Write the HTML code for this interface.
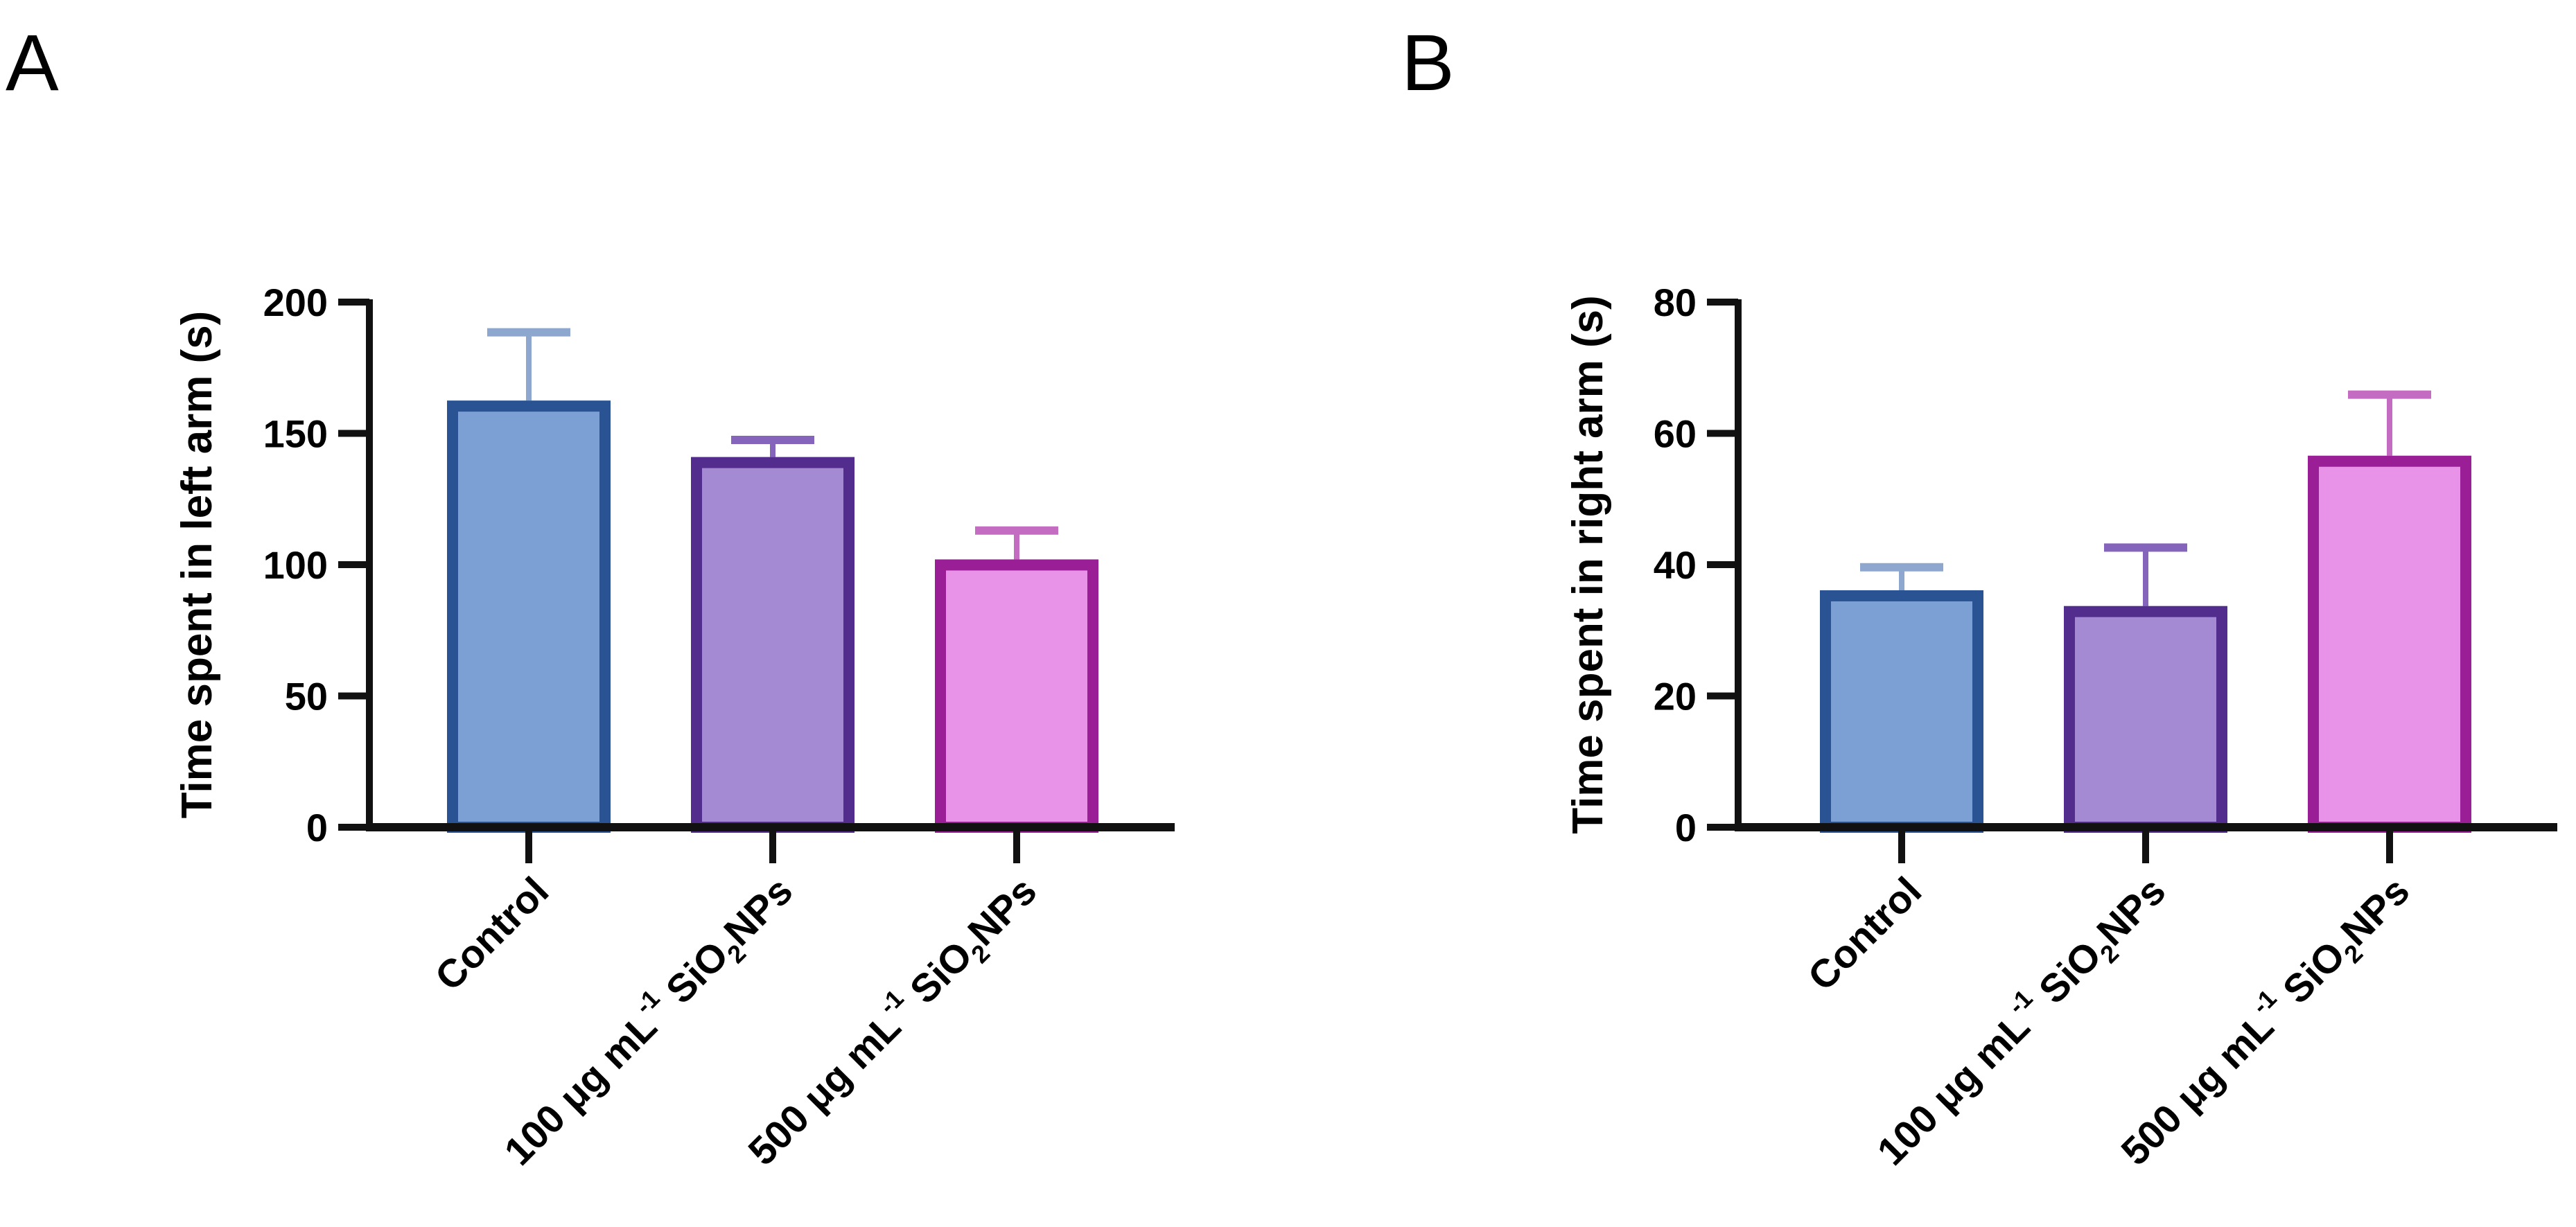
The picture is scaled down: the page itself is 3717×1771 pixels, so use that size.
<!DOCTYPE html>
<html><head><meta charset="utf-8"><style>
html,body{margin:0;padding:0;background:#fff;}
svg{display:block;font-family:"Liberation Sans",Arial,sans-serif;}
</style></head><body>
<svg id="fig" width="3717" height="1771" viewBox="0 0 3717 1771">
<text x="8" y="130" font-size="115">A</text>
<text x="2022" y="130" font-size="115">B</text>
</svg>
<script>
const categories = ["Control", "100 μg mL-1 SiO2NPs", "500 μg mL-1 SiO2NPs"];
const leftArmMeans = [162.5, 141, 102];
const leftArmErr = [188.5, 147.5, 113];
const rightArmMeans = [36.1, 33.7, 56.6];
const rightArmErr = [39.6, 42.6, 65.9];
const leftTicks = [0, 50, 100, 150, 200];
const rightTicks = [0, 20, 40, 60, 80];

const NS = "http://www.w3.org/2000/svg";
const svg = document.getElementById("fig");
const fills = ["#7ca0d4", "#a48ad2", "#e993e8"];
const borders = ["#2a5393", "#522d8e", "#9a1f96"];
const errCols = ["#8ea7cf", "#8565bb", "#c46cc2"];

function mk(tag, attrs, parent) {
  const e = document.createElementNS(NS, tag);
  for (const k in attrs) e.setAttribute(k, attrs[k]);
  (parent || svg).appendChild(e);
  return e;
}

function chart(cfg) {
  const g = mk("g", {});
  
  
  const y0 = 1194, yTop = 436;
  const ymax = cfg.ticks[cfg.ticks.length - 1];
  const yScale = v => y0 - (v / ymax) * (y0 - yTop);
  const xScale = i => cfg.firstCenter + i * cfg.step;
  const bw = 236;
  cfg.means.forEach((v, i) => {
    const cx = xScale(i);
    const er = mk("line", {x1: cx, x2: cx, y1: yScale(cfg.errs[i]), y2: yScale(v), stroke: errCols[i], "stroke-width": 8}, g);
    
    
    const cap = mk("line", {x1: cx - 60, x2: cx + 60, y1: yScale(cfg.errs[i]), y2: yScale(cfg.errs[i]), stroke: errCols[i], "stroke-width": 12}, g);
    
    
    const b = mk("rect", {x: cx - bw / 2 + 8, y: yScale(v) + 8, width: bw - 16, height: y0 - yScale(v) - 8, fill: fills[i], stroke: borders[i], "stroke-width": 16}, g);
    
    
  });
  const ya = mk("line", {x1: cfg.axisX, x2: cfg.axisX, y1: yTop - 4, y2: y0 + 4, stroke: "#111", "stroke-width": 10}, g);
  
  
  const xa = mk("line", {x1: cfg.axisX - 5, x2: cfg.axisEnd, y1: y0, y2: y0, stroke: "#111", "stroke-width": 12}, g);
  
  
  cfg.ticks.forEach(t => {
    const y = yScale(t);
    const tk = mk("line", {x1: cfg.axisX - 45, x2: cfg.axisX, y1: y, y2: y, stroke: "#111", "stroke-width": 10}, g);
    
    
    const tl = mk("text", {x: cfg.axisX - 60, y: y + 20, "text-anchor": "end", "font-size": 56, "font-weight": "bold"}, g);
    tl.textContent = t;
    
    
  });
  categories.forEach((c, i) => {
    const cx = xScale(i);
    const tk = mk("line", {x1: cx, x2: cx, y1: y0, y2: y0 + 52, stroke: "#111", "stroke-width": 10}, g);
    
    
    const tx = mk("text", {transform: "translate(" + (cx + 32) + "," + 1290 + ") rotate(-45)", "text-anchor": "end", "font-size": 57, "font-weight": "bold"}, g);
    
    
    const m = c.match(/^(\d+ μg mL)-1 SiO2NPs$/);
    if (m) {
      const a = mk("tspan", {}, tx); a.textContent = m[1];
      const b = mk("tspan", {"font-size": 36, dy: -28}, tx); b.textContent = "-1";
      const d = mk("tspan", {dy: 28}, tx); d.textContent = " SiO";
      const e = mk("tspan", {"font-size": 36, dy: 14}, tx); e.textContent = "2";
      const f = mk("tspan", {dy: -14}, tx); f.textContent = "NPs";
    } else tx.textContent = c;
  });
  const yt = mk("text", {transform: "translate(" + cfg.titleX + "," + 815 + ") rotate(-90)", "text-anchor": "middle", "font-size": 62, "font-weight": "bold"}, g);
  yt.textContent = cfg.title;
  
  
}

chart({name: "chart-left-arm", means: leftArmMeans, errs: leftArmErr, ticks: leftTicks, axisX: 533, axisEnd: 1695, firstCenter: 763, step: 352, titleX: 305, title: "Time spent in left arm (s)"});
chart({name: "chart-right-arm", means: rightArmMeans, errs: rightArmErr, ticks: rightTicks, axisX: 2508, axisEnd: 3690, firstCenter: 2744, step: 352, titleX: 2312, title: "Time spent in right arm (s)"});
</script>
</body></html>
